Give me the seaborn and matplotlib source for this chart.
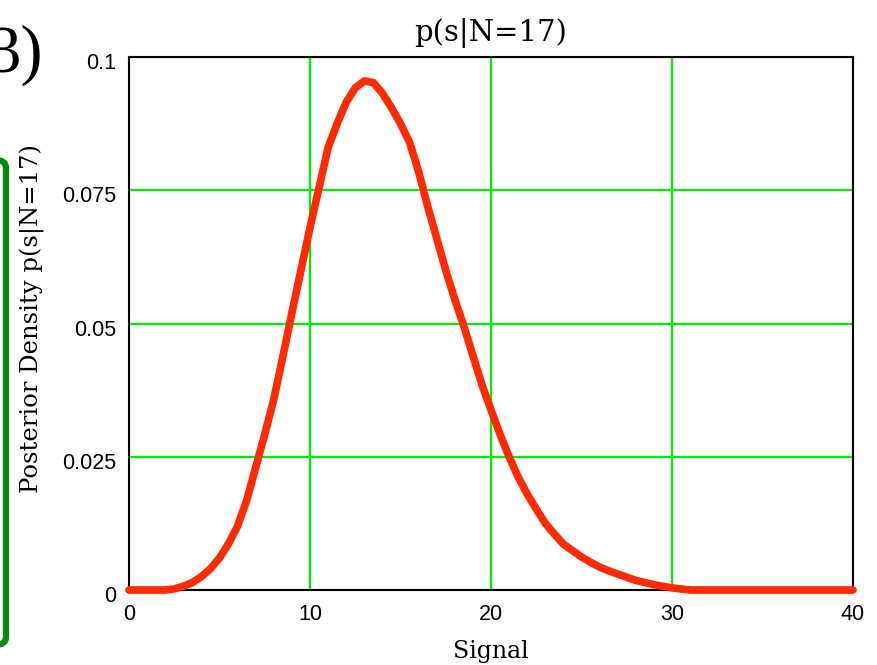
import matplotlib

matplotlib.use("Agg")
import matplotlib.pyplot as plt
from matplotlib.patches import FancyBboxPatch
from matplotlib.transforms import ScaledTranslation

import pandas as pd
import seaborn as sns

# Posterior density.
signal = [0, 1, 2, 2.5, 3, 3.5, 4, 4.5, 5, 5.5, 6, 6.5, 7, 7.5, 8, 8.5, 9, 9.5,
          10, 10.5, 11, 11.5, 12, 12.5, 13, 13.5, 14, 14.5, 15, 15.5, 16, 16.5,
          17, 17.5, 18, 18.5, 19, 19.5, 20, 20.5, 21, 21.5, 22, 22.5, 23, 23.5,
          24, 24.5, 25, 25.5, 26, 26.5, 27, 27.5, 28, 28.5, 29, 29.5, 30, 31,
          35, 40]
density = [0, 0, 0, 0.0002, 0.0007, 0.0014, 0.0025, 0.0040, 0.0060, 0.0087,
           0.0120, 0.0168, 0.0230, 0.0292, 0.0358, 0.0438, 0.0520, 0.0600,
           0.0680, 0.0755, 0.0830, 0.0875, 0.0915, 0.0942, 0.0955, 0.0952,
           0.0932, 0.0905, 0.0875, 0.0840, 0.0785, 0.0720, 0.0660, 0.0600,
           0.0545, 0.0495, 0.0440, 0.0385, 0.0338, 0.0292, 0.0250, 0.0212,
           0.0180, 0.0152, 0.0125, 0.0105, 0.0086, 0.0074, 0.0062, 0.0052,
           0.0043, 0.0036, 0.0030, 0.0024, 0.0018, 0.0014, 0.0010, 0.0007,
           0.0004, 0, 0, 0]

x_ticks = [0, 10, 20, 30, 40]
x_tick_labels = ["0", "10", "20", "30", "40"]
y_ticks = [0, 0.025, 0.05, 0.075, 0.1]
y_tick_labels = ["0", "0.025", "0.05", "0.075", "0.1"]

sns.set_theme(style="white")
plt.rcParams["font.family"] = ["Liberation Sans", "DejaVu Sans"]
plt.rcParams["text.color"] = "black"
plt.rcParams["axes.labelcolor"] = "black"

df = pd.DataFrame({"signal": signal, "density": density})

fig = plt.figure(figsize=(8.77, 6.65), dpi=100)
ax = fig.add_axes([129 / 877, 75 / 665, 724 / 877, 533 / 665])

sns.lineplot(data=df, x="signal", y="density", ax=ax, color="#ff2a00",
             linewidth=5.5, clip_on=False, zorder=5)

ax.set_xlim(0, 40)
ax.set_ylim(0, 0.1)
ax.set_xticks(x_ticks)
ax.set_xticklabels(x_tick_labels)
ax.set_yticks(y_ticks)
ax.set_yticklabels(y_tick_labels)
ax.tick_params(axis="both", length=0, labelsize=15.5, colors="black")
ax.tick_params(axis="x", pad=10)
ax.tick_params(axis="y", pad=9)
# y tick labels sit a little below their grid lines in the reference
shift = ScaledTranslation(0, -3 / 72, fig.dpi_scale_trans)
for lab in ax.get_yticklabels():
    lab.set_transform(lab.get_transform() + shift)
ax.grid(True, color="#00ee00", linewidth=1.6)
for spine in ax.spines.values():
    spine.set_color("black")
    spine.set_linewidth(1.5)

serif = ["DejaVu Serif"]
ax.set_xlabel("Signal", family=serif, fontsize=17, labelpad=11)
ax.set_ylabel("Posterior Density p(s|N=17)", family=serif, fontsize=17.5)
ax.yaxis.set_label_coords(-0.116, 0.51)

fig.text(491 / 877, 1 - 33 / 665, "p(s|N=17)", family=serif, fontsize=21,
         ha="center", va="center")

# Panel number, partly cut off at the left edge.
fig.text(43 / 877, 1 - 72 / 665, "3)", family=["Liberation Serif"],
         fontsize=48, ha="right", va="baseline")

# Green frame around the y label, clipped by the figure edge.
frame = FancyBboxPatch((-60 / 877, 20 / 665), 66 / 877, 485 / 665,
                       boxstyle="round,pad=0,rounding_size=0.012",
                       transform=fig.transFigure, facecolor="none",
                       edgecolor="#0a8a0a", linewidth=4.5)
fig.patches.append(frame)

fig.savefig("out.png", dpi=100)
